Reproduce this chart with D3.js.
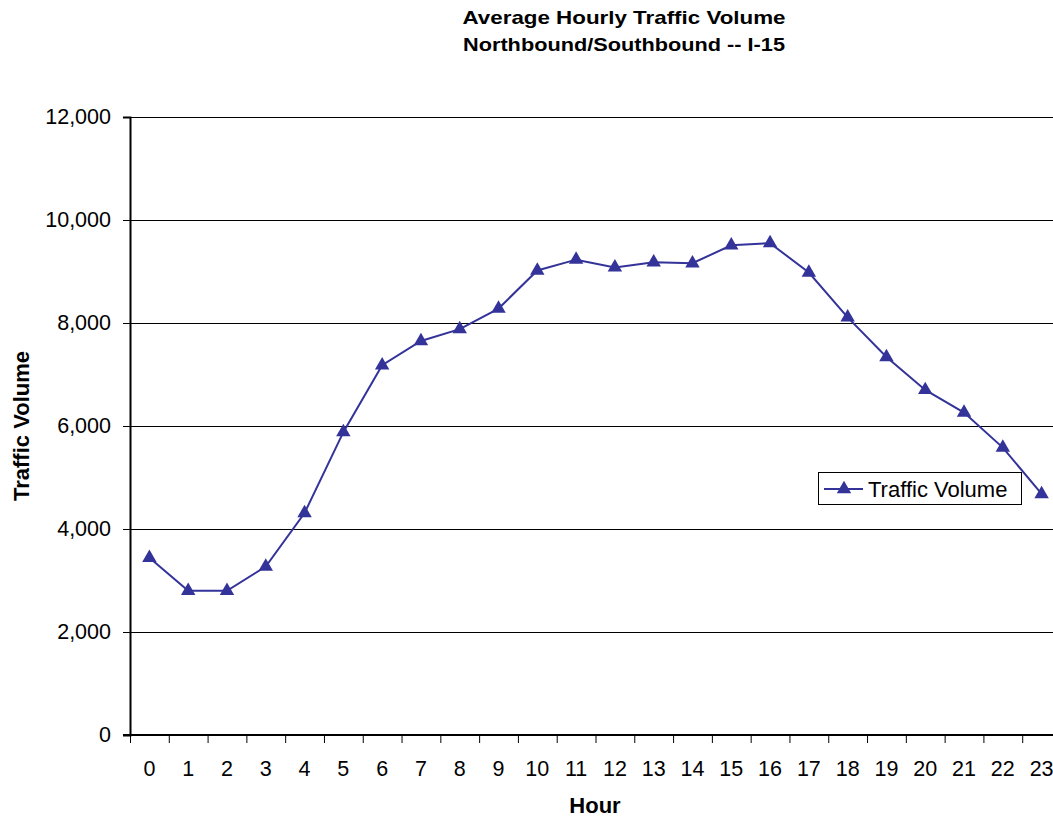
<!DOCTYPE html>
<html>
<head>
<meta charset="utf-8">
<script src="https://cdn.jsdelivr.net/npm/d3@7"></script>
<style>
  body { margin: 0; background: #fff; }
  svg { font-family: "Liberation Sans", Arial, sans-serif; }
</style>
</head>
<body>
<div id="chart"></div>
<script>
var hours = ["0", "1", "2", "3", "4", "5", "6", "7", "8", "9", "10", "11",
  "12", "13", "14", "15", "16", "17", "18", "19", "20", "21", "22", "23"];
var volume = [3440, 2800, 2800, 3270, 4310, 5880, 7180, 7650, 7880, 8280, 9020, 9230,
  9080, 9180, 9160, 9510, 9550, 8980, 8110, 7340, 6700, 6260, 5580, 4680];
var yTicks = [0, 2000, 4000, 6000, 8000, 10000, 12000];
var seriesName = "Traffic Volume";

var width = 1053,
  height = 818,
  plotLeft = 130,
  plotRight = 1061, // plot runs a little past the window edge
  plotTop = 117,
  plotBottom = 735;

var color = "#333399";

var svg = d3.select("#chart")
  .append("svg")
  .attr("width", width)
  .attr("height", height);

var x = d3.scaleBand()
  .domain(hours)
  .range([plotLeft, plotRight]);

var y = d3.scaleLinear()
  .domain([0, 12000])
  .range([plotBottom, plotTop]);

// horizontal gridlines
svg.append("g")
  .selectAll("line")
  .data(yTicks.slice(1))
  .enter().append("line")
  .attr("x1", plotLeft)
  .attr("x2", plotRight)
  .attr("y1", function(d) { return Math.round(y(d)) + 0.5; })
  .attr("y2", function(d) { return Math.round(y(d)) + 0.5; })
  .attr("stroke", "#000")
  .attr("stroke-width", 1);

// y axis
var yAxis = svg.append("g")
  .attr("transform", "translate(" + plotLeft + ",0)")
  .call(d3.axisLeft(y).tickValues(yTicks).tickSize(7).tickPadding(12)
    .tickFormat(d3.format(",")));
yAxis.select(".domain").attr("stroke-width", 2);
yAxis.selectAll("text").style("font-size", "21.5px").attr("fill", "#000");

// x axis: ticks sit on the category boundaries
var xAxis = svg.append("g")
  .attr("transform", "translate(0," + plotBottom + ")");
xAxis.append("line")
  .attr("x1", plotLeft - 7)
  .attr("x2", plotRight)
  .attr("stroke", "#000")
  .attr("stroke-width", 2);
xAxis.selectAll(".tick")
  .data(hours)
  .enter().append("line")
  .attr("x1", function(d) { return x(d) + 0.5; })
  .attr("x2", function(d) { return x(d) + 0.5; })
  .attr("y1", 0)
  .attr("y2", 8)
  .attr("stroke", "#000");
xAxis.selectAll("text")
  .data(hours)
  .enter().append("text")
  .attr("x", function(d) { return x(d) + x.bandwidth() / 2; })
  .attr("y", 41)
  .attr("text-anchor", "middle")
  .style("font-size", "21.5px")
  .text(function(d) { return d; });

// line + markers
var line = d3.line()
  .x(function(d, i) { return x(hours[i]) + x.bandwidth() / 2; })
  .y(function(d) { return y(d); });

svg.append("path")
  .datum(volume)
  .attr("d", line)
  .attr("fill", "none")
  .attr("stroke", color)
  .attr("stroke-width", 2);

var tri = d3.symbol().type(d3.symbolTriangle).size(90);

svg.append("g")
  .selectAll("path")
  .data(volume)
  .enter().append("path")
  .attr("d", tri)
  .attr("transform", function(d, i) {
    return "translate(" + (x(hours[i]) + x.bandwidth() / 2) + "," + y(d) + ")";
  })
  .attr("fill", color);

// titles (the reference lettering is a bit widened)
svg.append("text")
  .attr("x", 624)
  .attr("y", 24)
  .attr("text-anchor", "middle")
  .attr("textLength", 323)
  .attr("lengthAdjust", "spacingAndGlyphs")
  .style("font-size", "19px")
  .style("font-weight", "bold")
  .text("Average Hourly Traffic Volume");
svg.append("text")
  .attr("x", 624)
  .attr("y", 51)
  .attr("text-anchor", "middle")
  .attr("textLength", 322)
  .attr("lengthAdjust", "spacingAndGlyphs")
  .style("font-size", "19px")
  .style("font-weight", "bold")
  .text("Northbound/Southbound -- I-15");

svg.append("text")
  .attr("x", 595)
  .attr("y", 813)
  .attr("text-anchor", "middle")
  .style("font-size", "22px")
  .style("font-weight", "bold")
  .text("Hour");

svg.append("text")
  .attr("transform", "translate(29," + (plotTop + plotBottom) / 2 + ") rotate(-90)")
  .attr("text-anchor", "middle")
  .style("font-size", "22px")
  .style("font-weight", "bold")
  .text("Traffic Volume");

// legend
var legend = svg.append("g").attr("transform", "translate(818,472)");
legend.append("rect")
  .attr("x", 0.5)
  .attr("y", 0.5)
  .attr("width", 203)
  .attr("height", 32)
  .attr("fill", "#fff")
  .attr("stroke", "#000");
legend.append("line")
  .attr("x1", 6)
  .attr("x2", 45)
  .attr("y1", 17)
  .attr("y2", 17)
  .attr("stroke", color)
  .attr("stroke-width", 2);
legend.append("path")
  .attr("d", tri)
  .attr("transform", "translate(26,17)")
  .attr("fill", color);
legend.append("text")
  .attr("x", 50)
  .attr("y", 25)
  .style("font-size", "22px")
  .text(seriesName);
</script>
</body>
</html>
